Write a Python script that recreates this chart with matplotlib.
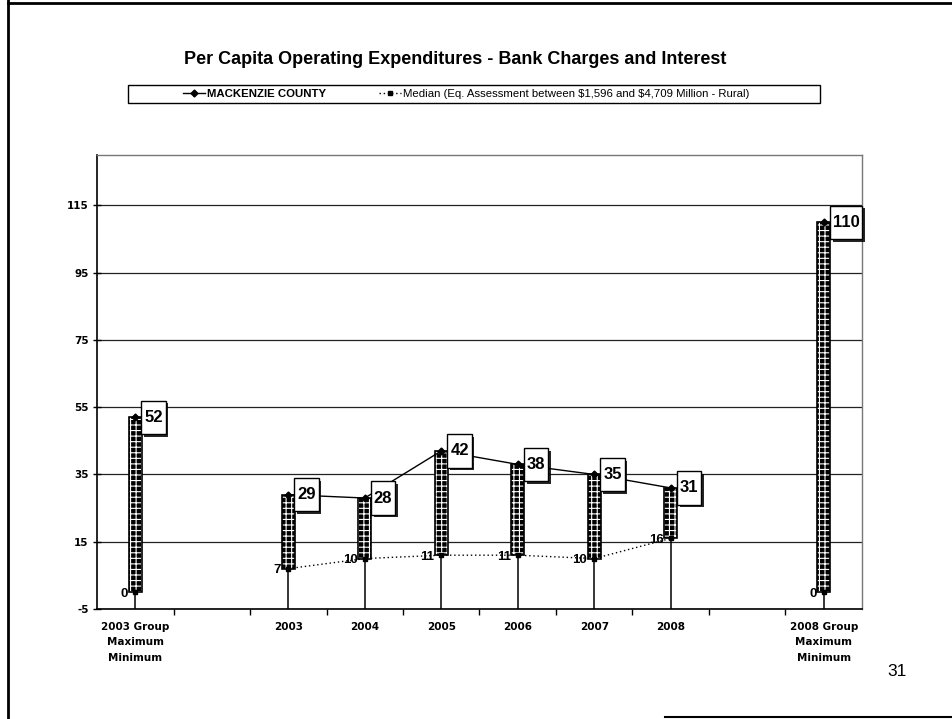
import numpy as np
import matplotlib
matplotlib.use("Agg")
import matplotlib.pyplot as plt
from matplotlib.path import Path
from matplotlib.lines import Line2D
from matplotlib.patches import Rectangle
import matplotlib.patheffects as pe

plt.rcParams["axes.unicode_minus"] = False
plt.rcParams["hatch.linewidth"] = 0.8

# ---- data -------------------------------------------------------------
categories = ["2003 Group\nMaximum\nMinimum", "", "2003", "2004", "2005",
              "2006", "2007", "2008", "", "2008 Group\nMaximum\nMinimum"]
county = [52, None, 29, 28, 42, 38, 35, 31, None, 110]
median = [0, None, 7, 10, 11, 11, 10, 16, None, 0]
county_label = "MACKENZIE COUNTY"
median_label = r"Median (Eq. Assessment between \$1,596 and \$4,709 Million - Rural)"
title = "Per Capita Operating Expenditures - Bank Charges and Interest"
y_ticks = [-5, 15, 35, 55, 75, 95, 115]
page_number = "31"

# ---- figure helpers (pixel -> figure fraction) ------------------------
W, H = 953, 719
fig = plt.figure(figsize=(W / 100, H / 100), dpi=100)
fig.patch.set_facecolor("white")


def fx(px):
    return px / W


def fy(py):
    return 1 - py / H


def tall_box(x0, y0, width, height, mutation_size):
    """Rectangular label box with more vertical than horizontal padding."""
    px = 0.17 * mutation_size
    py = 0.55 * mutation_size
    x0, x1 = x0 - px, x0 + width + px
    y0, y1 = y0 - py, y0 + height + py
    verts = [(x0, y0), (x1, y0), (x1, y1), (x0, y1), (x0, y0)]
    codes = [Path.MOVETO, Path.LINETO, Path.LINETO, Path.LINETO, Path.CLOSEPOLY]
    return Path(verts, codes)


ax = fig.add_axes([fx(97), fy(609), fx(862) - fx(97), fy(155) - fy(609)])

x = np.arange(len(categories))
cy = np.array([np.nan if v is None else v for v in county], dtype=float)
md = np.array([np.nan if v is None else v for v in median], dtype=float)
valid = ~np.isnan(cy)

# drop lines from each category's highest value down to the axis
ax.vlines(x[valid], -5, np.fmax(cy, md)[valid], color="black", lw=1.1, zorder=2)

# high-low bars between median and county values (patterned fill)
ax.bar(x[valid], (cy - md)[valid], bottom=md[valid], width=0.17,
       color="black", edgecolor="white", hatch="+++", linewidth=0, zorder=3)
ax.bar(x[valid], (cy - md)[valid], bottom=md[valid], width=0.17,
       fill=False, edgecolor="black", linewidth=1.2, zorder=4)

# series lines
l1, = ax.plot(x, cy, color="black", lw=1, marker="D", ms=3.5, zorder=5)
l2, = ax.plot(x, md, color="black", lw=1, ls=(0, (1, 2)), marker="s", ms=3, zorder=5)

# value labels
for xi, v in zip(x[valid], cy[valid]):
    ann = ax.annotate(f"{v:.0f}", (xi, v), xytext=(6.5, 0), textcoords="offset points",
                      ha="left", va="center", fontsize=12, fontweight="bold",
                      family="Liberation Sans", zorder=7,
                      bbox=dict(boxstyle=tall_box, fc="white", ec="black", lw=1))
    ann.get_bbox_patch().set_path_effects(
        [pe.SimplePatchShadow(offset=(2, -2), shadow_rgbFace="black", alpha=0.85),
         pe.Normal()])

for xi, v in zip(x[valid], md[valid]):
    ax.annotate(f"{v:.0f}", (xi, v), xytext=(-5, -1), textcoords="offset points",
                ha="right", va="center", fontsize=9.5, fontweight="bold",
                family="Liberation Sans", zorder=7)

# axes, ticks and grid
ax.set_xlim(-0.5, len(categories) - 0.5)
ax.set_ylim(-5, 130)
ax.set_yticks(y_ticks)
ax.set_xticks(x)
ax.set_xticklabels(categories)
ax.set_xticks(x[:-1] + 0.5, minor=True)
ax.tick_params(axis="x", which="major", length=0, pad=9)
ax.tick_params(axis="x", which="minor", length=4, direction="out", width=1)
ax.tick_params(axis="y", length=6, direction="inout", width=1, pad=3)
for lbl in ax.get_xticklabels() + ax.get_yticklabels():
    lbl.set_fontfamily("DejaVu Sans")
    lbl.set_fontweight("bold")
    lbl.set_fontsize(7.5)
for lbl in ax.get_xticklabels():
    lbl.set_linespacing(1.7)

ax.yaxis.grid(True, color="#222222", lw=0.9)
ax.set_axisbelow(True)
for side in ("left", "bottom"):
    ax.spines[side].set_color("black")
    ax.spines[side].set_linewidth(1.2)
for side in ("top", "right"):
    ax.spines[side].set_color("#777777")
    ax.spines[side].set_linewidth(1)

# legend with its frame
fig.add_artist(Rectangle((fx(128), fy(103)), fx(820) - fx(128), fy(85) - fy(103),
                         transform=fig.transFigure, fill=False, ec="black", lw=1))
leg = fig.legend(handles=[l1, l2], labels=[county_label, median_label],
                 loc="center", bbox_to_anchor=(fx(178), fy(103), fx(754) - fx(178), fy(85) - fy(103)),
                 mode="expand", ncol=2, frameon=False,
                 prop={"family": "Liberation Sans", "size": 8.2},
                 handlelength=2.0, handletextpad=0.15, borderaxespad=0, borderpad=0.4)
leg.get_texts()[0].set_fontweight("bold")

# title and page number
fig.text(fx(455), fy(60), title, ha="center", va="center", fontsize=13,
         fontweight="bold", family="Liberation Sans")
fig.text(fx(897), fy(672), page_number, ha="center", va="center", fontsize=12.5,
         family="Liberation Sans")

# slide border
fig.add_artist(Line2D([fx(8), fx(8)], [fy(0), fy(718)], color="black", lw=2))
fig.add_artist(Line2D([fx(8), fx(953)], [fy(3), fy(3)], color="black", lw=2))
fig.add_artist(Line2D([fx(665), fx(953)], [fy(717), fy(717)], color="black", lw=1.5))

fig.savefig("out.png", dpi=100)
